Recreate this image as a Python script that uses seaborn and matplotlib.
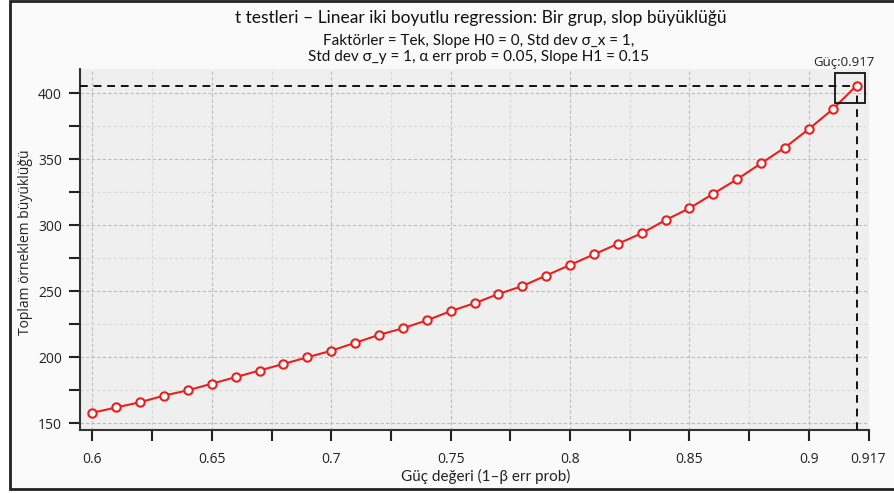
import numpy as np
import pandas as pd
import seaborn as sns
import matplotlib.pyplot as plt
from matplotlib.patches import Rectangle
from matplotlib.ticker import MultipleLocator
from matplotlib.transforms import offset_copy

# power values (x) and total sample size (y)
power = [0.60, 0.61, 0.62, 0.63, 0.64, 0.65, 0.66, 0.67, 0.68, 0.69,
         0.70, 0.71, 0.72, 0.73, 0.74, 0.75, 0.76, 0.77, 0.78, 0.79,
         0.80, 0.81, 0.82, 0.83, 0.84, 0.85, 0.86, 0.87, 0.88, 0.89,
         0.90, 0.91, 0.92]
sample_size = [158, 162, 166, 171, 175, 180, 185, 190, 195, 200,
               205, 211, 217, 222, 228, 235, 241, 248, 254, 262,
               270, 278, 286, 294, 304, 313, 324, 335, 347, 359,
               373, 388, 406]

x_major = [0.6, 0.65, 0.7, 0.75, 0.8, 0.85, 0.9]
x_major_labels = ["0.6", "0.65", "0.7", "0.75", "0.8", "0.85", "0.9"]
final_label = "0.917"
y_major = [150, 200, 250, 300, 350, 400]

title = "t testleri – Linear iki boyutlu regression: Bir grup, slop büyüklüğü"
subtitle = ("Faktörler = Tek, Slope H0 = 0, Std dev σ_x = 1,\n"
            "Std dev σ_y = 1, α err prob = 0.05, Slope H1 = 0.15")
xlabel = "Güç değeri (1–β err prob)"
ylabel = "Toplam örneklem büyüklüğü"

df = pd.DataFrame({"power": power, "n": sample_size})

sns.set_theme(style="ticks")
plt.rcParams["font.family"] = ["Open Sans", "DejaVu Sans"]
head_font = ["Lato", "DejaVu Sans"]

fig = plt.figure(figsize=(8.94, 4.93), dpi=100)
fig.patch.set_facecolor("white")
# outer frame / panel
fig.patches.append(Rectangle((0.011, 0.008), 1.0, 0.99, transform=fig.transFigure,
                             facecolor="#fafafa", edgecolor="#222222", linewidth=2.0,
                             zorder=-10))
ax = fig.add_axes([0.0895, 0.128, 0.882, 0.732])
ax.set_facecolor("#efefef")

sns.lineplot(data=df, x="power", y="n", ax=ax, color="#e8201e", linewidth=1.5,
             marker="o", markersize=6, markerfacecolor="white",
             markeredgecolor="#e8201e", markeredgewidth=1.5, zorder=5)

xmin, xmax = 0.5948, 0.925
ymin, ymax = 145, 418.5
ax.set_xlim(xmin, xmax)
ax.set_ylim(ymin, ymax)

last_x, last_y = power[-1], sample_size[-1]
ax.plot([xmin, last_x], [last_y, last_y], color="#111111", linestyle=(0, (4, 3)),
        linewidth=1.4, zorder=4)
ax.plot([last_x, last_x], [ymin, last_y], color="#111111", linestyle=(0, (4, 3)),
        linewidth=1.4, zorder=4)
box_tr = offset_copy(ax.transData, fig=fig, x=-4.5, y=-1.5, units="points")
ax.plot([last_x], [last_y], marker="s", markersize=21, markerfacecolor="none",
        markeredgecolor="#111111", markeredgewidth=1.3, zorder=6, clip_on=False,
        transform=box_tr)
ax.annotate("Güç:" + final_label, xy=(last_x, last_y), xytext=(-9, 12),
            textcoords="offset points", ha="center", va="bottom", fontsize=9.5,
            color="#222222", annotation_clip=False)

ax.set_xticks(x_major + [xmax])
ax.set_xticklabels(x_major_labels + [final_label])
ax.xaxis.set_minor_locator(MultipleLocator(0.025))
ax.set_yticks(y_major)
ax.yaxis.set_minor_locator(MultipleLocator(25))

ax.grid(which="major", color="#bdbdbd", linestyle=(0, (3, 2)), linewidth=0.8)
ax.grid(which="minor", color="#dadada", linestyle=(0, (3, 2)), linewidth=0.8)
ax.tick_params(which="both", direction="out", length=8, width=1.5, color="#222222",
               labelsize=10, labelcolor="#222222")
ax.tick_params(axis="x", pad=8)
ax.tick_params(axis="y", pad=5)

for s in ["top", "right"]:
    ax.spines[s].set_visible(False)
for s in ["left", "bottom"]:
    ax.spines[s].set_color("#333333")
    ax.spines[s].set_linewidth(1.5)

ax.set_xlabel(xlabel, fontsize=11, color="#222222", family=head_font)
ax.set_ylabel(ylabel, fontsize=10, color="#222222")
ax.xaxis.set_label_coords(0.515, -0.108)
ax.yaxis.set_label_coords(-0.059, 0.52)

fig.text(0.538, 0.963, title, ha="center", va="center", fontsize=12.5,
         color="#111111", family=head_font)
fig.text(0.535, 0.901, subtitle, ha="center", va="center", fontsize=11,
         color="#111111", linespacing=1.2, family=head_font)

fig.savefig("out.png", dpi=100)
